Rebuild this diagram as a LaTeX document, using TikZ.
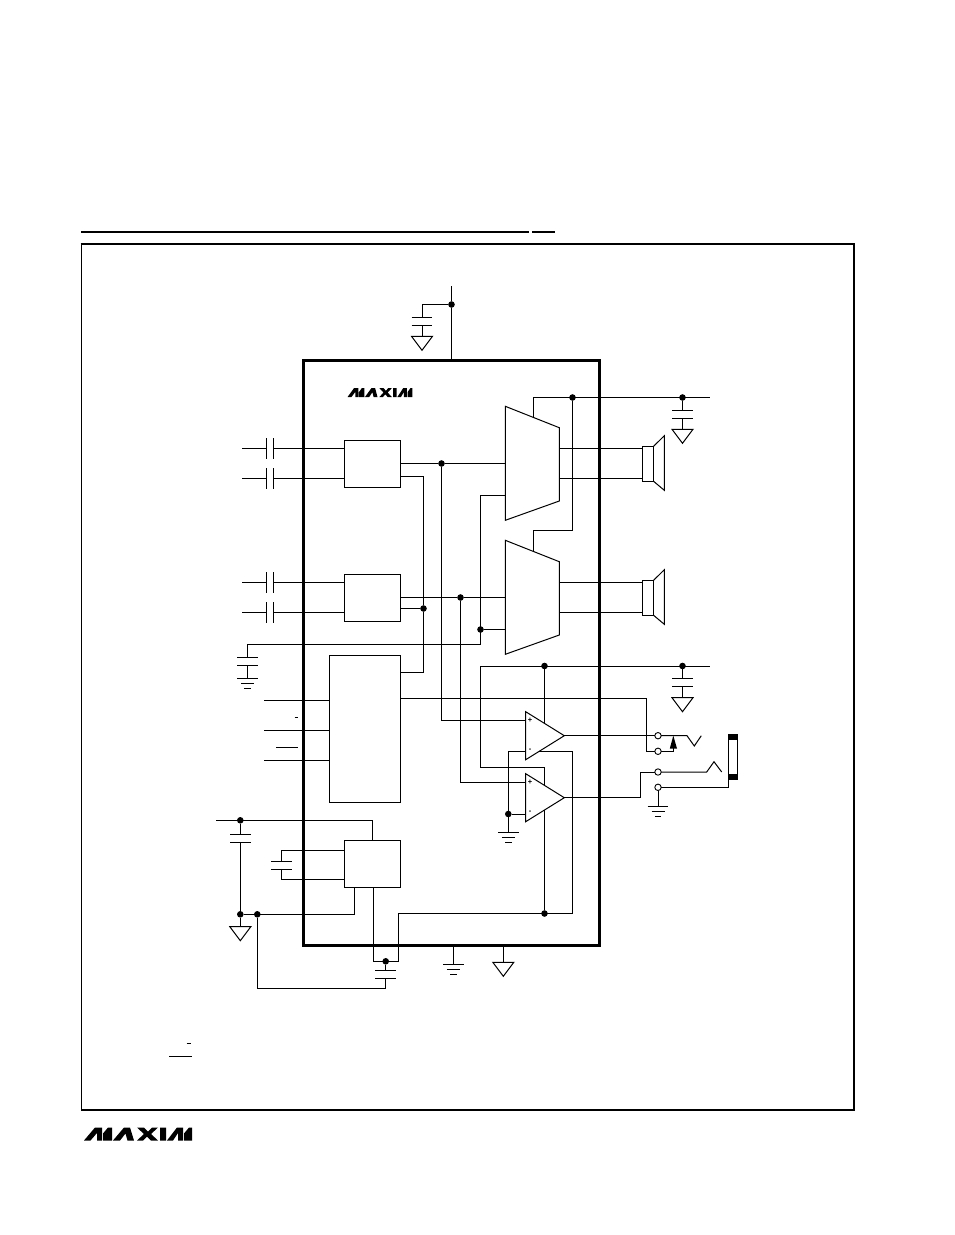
\documentclass[tikz,border=0pt]{standalone}
\usepackage{fontspec}
\setmainfont{Liberation Sans}
\tikzset{
  x=1pt,y=-1pt,
  wire/.style={line width=1pt,line join=miter},
  blk/.style={draw,line width=1pt,inner sep=0pt,outer sep=0pt,rectangle},
  dotn/.style={circle,fill=black,inner sep=0pt,outer sep=0pt,minimum size=6.6pt},
  term/.style={circle,draw,line width=0.9pt,fill=white,inner sep=0pt,outer sep=0pt,minimum size=6.4pt},
  sign/.style={inner sep=0pt,font=\fontsize{7.5}{7.5}\selectfont\bfseries},
  pics/capv/.style={code={\draw[wire] (-10.3,0)--(10.3,0) (-10.3,8)--(10.3,8);}},
  pics/caph/.style={code={\draw[wire] (0,-10.3)--(0,10.3) (7.2,-10.3)--(7.2,10.3);}},
  pics/trig/.style={code={\draw[wire] (-10.5,0)--(10.5,0)--(0,14)--cycle;}},
  pics/gndg/.style={code={\draw[wire] (-10.3,0)--(10.3,0) (-6.5,5.2)--(6.5,5.2) (-3.2,10.2)--(3.2,10.2);}},
  pics/logo/.style={code={\fill[black]
    (0,13)--(11,0)--(18,0)--(18,13)--(13,13)--(13,5.5)--(6.5,13)--cycle
    (19,13)--(19,6)--(24,0)--(28,0)--(28,13)--cycle
    (29,13)--(40,0)--(46,0)--(50,13)--(43.5,13)--(41.5,6)--(36,13)--cycle
    (53,0)--(60,0)--(64,4)--(68,0)--(74,0)--(67,6.5)--(74,13)--(67,13)--(63,9)--(59,13)--(53,13)--(60,6.5)--cycle
    (76,0)--(82,0)--(82,13)--(76,13)--cycle
    (83,13)--(93,0)--(99,0)--(99,13)--(94,13)--(94,5.5)--(89,13)--cycle
    (100,13)--(100,6)--(105,0)--(108,0)--(108,13)--cycle;}}
}
\begin{document}
\begin{tikzpicture}
\useasboundingbox (0,0) rectangle (954,1235);
\fill[white] (0,0) rectangle (954,1235);
% page furniture
\draw[line width=2pt] (81,232)--(529,232) (532,232)--(555,232);
\draw[line width=1.4pt] (81.5,244)--(81.5,1110)--(854,1110)--(854,244);
\draw[line width=2.2pt] (80.5,244)--(855,244);
\pic at (84,1127.5) {logo};
\pic[xscale=0.6,yscale=0.7] at (347.5,388) {logo};
\draw[line width=0.9pt] (186.5,1043)--(190.5,1043) (169,1056)--(192,1056);
\draw[line width=0.9pt] (294.5,717.3)--(298,717.3) (276,747.3)--(298,747.3);
% blocks
\node[blk,line width=3pt,minimum width=296pt,minimum height=585pt] (IC) at (451,652.5) {};
\node[blk,minimum width=56pt,minimum height=47pt] (A) at (372.5,463.8) {};
\node[blk,minimum width=56pt,minimum height=47pt] (B) at (372.5,597.8) {};
\node[blk,minimum width=71pt,minimum height=147pt] (C) at (365,728.8) {};
\node[blk,minimum width=56pt,minimum height=47pt] (D) at (372.5,863.8) {};
\node[blk,minimum width=11.2pt,minimum height=35pt] (spkA) at (648,463.8) {};
\node[blk,minimum width=11.2pt,minimum height=35pt] (spkB) at (648,597.8) {};
\draw[wire] (spkA.north east)--(664.3,435.7)--(664.3,490.3)--(spkA.south east);
\draw[wire] (spkB.north east)--(664.3,569.7)--(664.3,624.3)--(spkB.south east);
% junction dots
\node[dotn] (dV) at (451.5,304.5) {};
\node[dotn] (dA) at (441.5,463.5) {};
\node[dotn] (dB1) at (460.5,597.5) {};
\node[dotn] (dB2) at (423.5,608.5) {};
\node[dotn] (dS1) at (572.5,397.5) {};
\node[dotn] (dS2) at (682.5,397.5) {};
\node[dotn] (dM) at (480.5,629.5) {};
\node[dotn] (dO1) at (544.5,666) {};
\node[dotn] (dO2) at (682.5,666) {};
\node[dotn] (dG) at (508.3,814) {};
\node[dotn] (dL1) at (240.3,820.3) {};
\node[dotn] (dL2) at (240.3,914.3) {};
\node[dotn] (dL3) at (257.3,914.3) {};
\node[dotn] (dR) at (385.7,961.3) {};
\node[dotn] (dC) at (544.5,913.5) {};
% jack terminals
\node[term] (T1) at (658,735.7) {};
\node[term] (T2) at (658,751.3) {};
\node[term] (T3) at (658,772) {};
\node[term] (T4) at (658,787.3) {};
% muxes and op amps
\draw[wire] (505.3,406.3)--(559.3,427.7)--(559.3,501)--(505.3,520.3)--cycle;
\draw[wire] (505.3,540.3)--(559.3,561.7)--(559.3,635)--(505.3,654.3)--cycle;
\draw[wire] (525.7,711.7)--(564.3,735.7)--(525.7,759.7)--cycle;
\draw[wire] (525.7,773.7)--(564.3,797.7)--(525.7,821.7)--cycle;
\node[sign] (sp1) at (530,720.5) {+};
\node[sign] (sm1) at (530,750) {-};
\node[sign] (sp2) at (530,782.5) {+};
\node[sign] (sm2) at (530,812) {-};
% coordinates
\foreach \n/\x/\y in {vt/451.5/286,c1/422/317,t1/422/336.3,
 i1/242/448.4,i2/242/478.4,i3/242/582.4,i4/242/612.4,
 h1/266.2/448.4,h2/266.2/478.4,h3/266.2/582.4,h4/266.2/612.4,
 m1a/505.3/463.5,m1b/505.3/495.5,m2a/505.3/597.5,m2b/505.3/629.5,
 a2/400.5/476.5,co1/400.5/672.5,co2/400.5/698.3,b1/400.5/597.5,b2/400.5/608.5,a1/400.5/463.5,
 op1/525.7/720.5,op2/525.7/782.3,
 ms1/533.5/417,ms2/533.5/551,k2/533.5/530.3,sr1/710/397.5,sr2/710/666,
 c4/682.5/410.3,t4/682.5/429.3,c8/682.5/678.3,t8/682.5/697.7,
 k3/480.5/644.5,k4/247.5/644.5,c2/247.5/657.3,g2/247.5/678.3,
 m1o1/559.3/448.3,m1o2/559.3/478.3,m2o1/559.3/582.3,m2o2/559.3/612.3,
 k5/480.5/666,k6/544.5/767.3,o1t/544.5/723.4,o2t/544.5/785.4,o2b/544.5/809.9,
 o1b/539/751.3,k7/572.7/913.5,k8/398.7/913.5,k9/398.7/961.3,k10/373.3/961.3,d2/373.3/887.3,
 c5/385.7/970.3,k11/257.3/988.3,k12/354.3/914.3,d3/354.3/887.3,k13/216/820.3,d1/372.3/840.3,
 c6/240.3/834.3,t6/240.3/926.7,d4/344.3/850.3,d5/344.3/879.3,c7/281.3/861.3,
 g3/453.3/964.3,t7/503.3/962.3,l1/264/700.5,l2/264/730.5,l3/264/760.5,
 k14/646.3/751.3,o1o/564.3/735.7,o2o/564.3/797.7,k15/640.3/772,
 m1/508.3/751.3,m1e/525.7/751.3,m2e/525.7/814,g4/508.3/832.3,g5/658/806.3,
 j1/687/735.7,j2/694.3/746,j3/701.3/735.7,j4/706.7/772,j5/714/761.7,j6/721.7/772,
 j7/673.3/751.3,j8/673.3/747,j9/728.5/787.3,j10/728.5/779.7} {\coordinate (\n) at (\x,\y);}
% supply and decoupling
\draw[wire] (vt)--(dV);
\draw[wire] (dV)--(dV |- IC.north);
\draw[wire] (dV) -| (c1);
\pic at (c1) {capv};
\draw[wire] (c1) ++(0,8) -- (t1);
\pic at (t1) {trig};
% input capacitors
\foreach \s in {1,2,3,4} {\draw[wire] (i\s)--(h\s); \pic at (h\s) {caph};}
\draw[wire] (h1) ++(7.2,0) -- (h1 -| A.west);
\draw[wire] (h2) ++(7.2,0) -- (h2 -| A.west);
\draw[wire] (h3) ++(7.2,0) -- (h3 -| B.west);
\draw[wire] (h4) ++(7.2,0) -- (h4 -| B.west);
% audio paths
\draw[wire] (a1)--(dA)--(m1a);
\draw[wire] (dA) |- (op1);
\draw[wire] (a2) -| (dB2);
\draw[wire] (dB2) |- (co1);
\draw[wire] (b2)--(dB2);
\draw[wire] (b1)--(dB1)--(m2a);
\draw[wire] (dB1) |- (op2);
% mux supply
\draw[wire] (ms1) |- (sr1);
\draw[wire] (dS1) |- (k2) -- (ms2);
\draw[wire] (dS2)--(c4);
\pic at (c4) {capv};
\draw[wire] (c4) ++(0,8) -- (t4);
\pic at (t4) {trig};
% shutdown / bias
\draw[wire] (m1b) -| (k3);
\draw[wire] (k3)--(k4)--(c2);
\pic at (c2) {capv};
\draw[wire] (c2) ++(0,8) -- (g2);
\pic at (g2) {gndg};
\draw[wire] (dM)--(m2b);
% speakers
\draw[wire] (m1o1)--(m1o1 -| spkA.west);
\draw[wire] (m1o2)--(m1o2 -| spkA.west);
\draw[wire] (m2o1)--(m2o1 -| spkB.west);
\draw[wire] (m2o2)--(m2o2 -| spkB.west);
% op amp supply
\draw[wire] (k5)--(sr2);
\draw[wire] (dO1)--(o1t);
\draw[wire] (k5) |- (k6) -- (o2t);
\draw[wire] (o2b)--(dC);
\draw[wire] (dO2)--(c8);
\pic at (c8) {capv};
\draw[wire] (c8) ++(0,8) -- (t8);
\pic at (t8) {trig};
\draw[wire] (o1b) -| (k7) -- (k8) -- (k9) -- (k10) -- (d2);
% charge pump block
\draw[wire] (dR)--(c5);
\pic at (c5) {capv};
\draw[wire] (c5) ++(0,8) |- (k11) -- (dL3);
\draw[wire] (dL2)--(k12)--(d3);
\draw[wire] (k13) -| (d1);
\draw[wire] (dL1)--(c6);
\pic at (c6) {capv};
\draw[wire] (c6) ++(0,8) -- (dL2);
\draw[wire] (dL2)--(t6);
\pic at (t6) {trig};
\draw[wire] (d4) -| (c7);
\pic at (c7) {capv};
\draw[wire] (c7) ++(0,7.5) |- (d5);
% IC ground pins
\draw[wire] (g3 |- IC.south)--(g3);
\pic at (g3) {gndg};
\draw[wire] (t7 |- IC.south)--(t7);
\pic at (t7) {trig};
% control inputs
\draw[wire] (l1)--(l1 -| C.west);
\draw[wire] (l2)--(l2 -| C.west);
\draw[wire] (l3)--(l3 -| C.west);
% headphone jack
\draw[wire] (co2) -| (k14) -- (T2);
\draw[wire] (o1o)--(T1);
\draw[wire] (T1)--(j1)--(j2)--(j3);
\draw[wire] (T2)--(j7)--(j8);
\fill[black] (673.3,735.7)--(677,748.5)--(669.8,748.5)--cycle;
\draw[wire] (o2o) -| (k15) -- (T3);
\draw[wire] (T3)--(j4)--(j5)--(j6);
\draw[wire] (T4)--(j9)--(j10);
\draw[wire] (728.5,734.5) rectangle (737,779.5);
\fill[black] (728,734) rectangle (737.5,740);
\fill[black] (728,774) rectangle (737.5,780);
\draw[wire] (T4)--(g5);
\pic at (g5) {gndg};
% feedback and ground at op amps
\draw[wire] (m1e)--(m1)--(dG);
\draw[wire] (dG)--(m2e);
\draw[wire] (dG)--(g4);
\pic at (g4) {gndg};
\end{tikzpicture}
\end{document}
